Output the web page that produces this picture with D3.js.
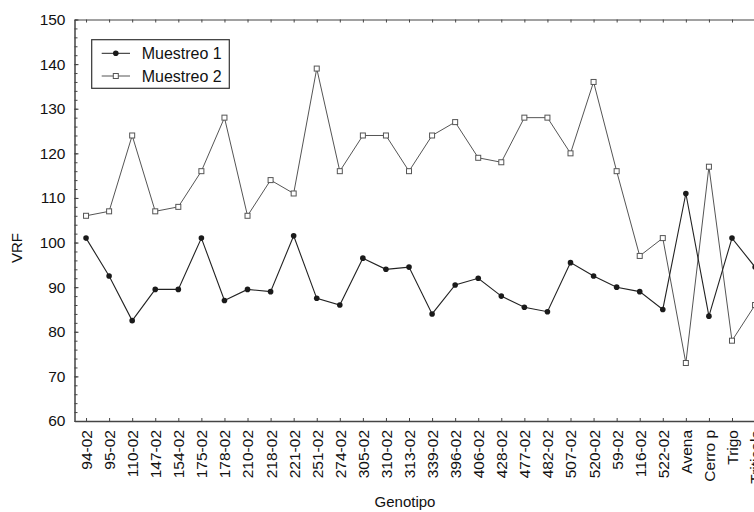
<!DOCTYPE html>
<html>
<head>
<meta charset="utf-8">
<script src="https://cdn.jsdelivr.net/npm/d3@7"></script>
<style>
  html, body { margin: 0; padding: 0; background: #fff; overflow: hidden; }
  svg { display: block; font-family: "Liberation Sans", Arial, Helvetica, sans-serif; }
</style>
</head>
<body>
<svg id="chart" width="754" height="512"></svg>
<script>
// Genotypes along the x axis
const categories = ["94-02", "95-02", "110-02", "147-02", "154-02", "175-02", "178-02",
  "210-02", "218-02", "221-02", "251-02", "274-02", "305-02", "310-02", "313-02",
  "339-02", "396-02", "406-02", "428-02", "477-02", "482-02", "507-02", "520-02",
  "59-02", "116-02", "522-02", "Avena", "Cerro p", "Trigo", "Triticale"];

// VRF per genotype, first sampling
const muestreo1 = [101, 92.5, 82.5, 89.5, 89.5, 101, 87, 89.5, 89, 101.5, 87.5, 86,
  96.5, 94, 94.5, 84, 90.5, 92, 88, 85.5, 84.5, 95.5, 92.5, 90, 89, 85,
  111, 83.5, 101, 94.5];

// VRF per genotype, second sampling
const muestreo2 = [106, 107, 124, 107, 108, 116, 128, 106, 114, 111, 139, 116,
  124, 124, 116, 124, 127, 119, 118, 128, 128, 120, 136, 116, 97, 101,
  73, 117, 78, 86];

const yTicks = [60, 70, 80, 90, 100, 110, 120, 130, 140, 150];
const yMinorTicks = d3.range(60, 151, 2);

const svg = d3.select("#chart");
const fontSize = "15.5px";

const x = d3.scalePoint().domain(categories).range([74.5, 766.6]).padding(0.5);
const y = d3.scaleLinear().domain([60, 150]).range([421, 19.5]);

const axisColor = "#444";

// minor ticks on the left axis
svg.append("g")
  .attr("transform", "translate(74.5,0)")
  .call(d3.axisLeft(y).tickValues(yMinorTicks).tickSize(-3).tickFormat(""))
  .call(g => g.select(".domain").remove())
  .call(g => g.selectAll("line").attr("stroke", axisColor));

// left axis with labels
svg.append("g")
  .attr("transform", "translate(74.5,0)")
  .call(d3.axisLeft(y).tickValues(yTicks).tickSize(-4).tickSizeOuter(0).tickPadding(9))
  .call(g => g.select(".domain").attr("stroke", axisColor).attr("stroke-width", 1.5))
  .call(g => g.selectAll("line").attr("stroke", axisColor))
  .call(g => g.selectAll("text").attr("fill", "#111").style("font-size", fontSize));

// top frame with category ticks
svg.append("g")
  .attr("transform", "translate(0,19.5)")
  .call(d3.axisTop(x).tickSize(-3).tickSizeOuter(0).tickFormat(""))
  .call(g => g.select(".domain").attr("stroke", axisColor).attr("stroke-width", 1.2))
  .call(g => g.selectAll("line").attr("stroke", axisColor));

// bottom axis with rotated genotype labels
svg.append("g")
  .attr("transform", "translate(0,421)")
  .call(d3.axisBottom(x).tickSize(-3).tickSizeOuter(0))
  .call(g => g.select(".domain").attr("stroke", axisColor).attr("stroke-width", 1.5))
  .call(g => g.selectAll("line").attr("stroke", axisColor))
  .call(g => g.selectAll("text")
    .attr("transform", "rotate(-90)")
    .attr("x", -9).attr("y", 0).attr("dy", "0.35em")
    .attr("fill", "#111")
    .style("text-anchor", "end")
    .style("font-size", fontSize));

// axis titles
svg.append("text")
  .attr("transform", "translate(22,248) rotate(-90)")
  .attr("text-anchor", "middle")
  .attr("fill", "#111")
  .style("font-size", "15px")
  .text("VRF");

svg.append("text")
  .attr("x", 405).attr("y", 507)
  .attr("text-anchor", "middle")
  .attr("fill", "#111")
  .style("font-size", "15px")
  .text("Genotipo");

const line = d3.line().x((d, i) => x(categories[i])).y(d => y(d));

// second sampling: thin gray line, open squares
svg.append("path")
  .datum(muestreo2)
  .attr("d", line)
  .attr("fill", "none")
  .attr("stroke", "#555")
  .attr("stroke-width", 1);

svg.append("g").selectAll("rect")
  .data(muestreo2)
  .join("rect")
  .attr("x", (d, i) => x(categories[i]) - 2.5)
  .attr("y", d => y(d) - 2.5)
  .attr("width", 5).attr("height", 5)
  .attr("fill", "#fff")
  .attr("stroke", "#555")
  .attr("stroke-width", 1);

// first sampling: dark line, filled circles
svg.append("path")
  .datum(muestreo1)
  .attr("d", line)
  .attr("fill", "none")
  .attr("stroke", "#222")
  .attr("stroke-width", 1.1);

svg.append("g").selectAll("circle")
  .data(muestreo1)
  .join("circle")
  .attr("cx", (d, i) => x(categories[i]))
  .attr("cy", d => y(d))
  .attr("r", 2.8)
  .attr("fill", "#1a1a1a");

// legend
const legend = svg.append("g");
legend.append("rect")
  .attr("x", 91.7).attr("y", 39.7)
  .attr("width", 137.6).attr("height", 48.6)
  .attr("fill", "#fff")
  .attr("stroke", "#333")
  .attr("stroke-width", 1.2);

const legendRows = [
  { label: "Muestreo 1", y: 53.3, kind: "circle" },
  { label: "Muestreo 2", y: 76, kind: "square" }
];

legendRows.forEach(r => {
  legend.append("line")
    .attr("x1", 101.7).attr("x2", 130)
    .attr("y1", r.y).attr("y2", r.y)
    .attr("stroke", r.kind === "circle" ? "#222" : "#555")
    .attr("stroke-width", 1);
  if (r.kind === "circle") {
    legend.append("circle")
      .attr("cx", 115.8).attr("cy", r.y).attr("r", 2.8)
      .attr("fill", "#1a1a1a");
  } else {
    legend.append("rect")
      .attr("x", 113.3).attr("y", r.y - 2.5)
      .attr("width", 5).attr("height", 5)
      .attr("fill", "#fff").attr("stroke", "#555");
  }
  legend.append("text")
    .attr("x", 141.7).attr("y", r.y).attr("dy", "0.35em")
    .attr("fill", "#111")
    .style("font-size", "16px")
    .text(r.label);
});
</script>
</body>
</html>
